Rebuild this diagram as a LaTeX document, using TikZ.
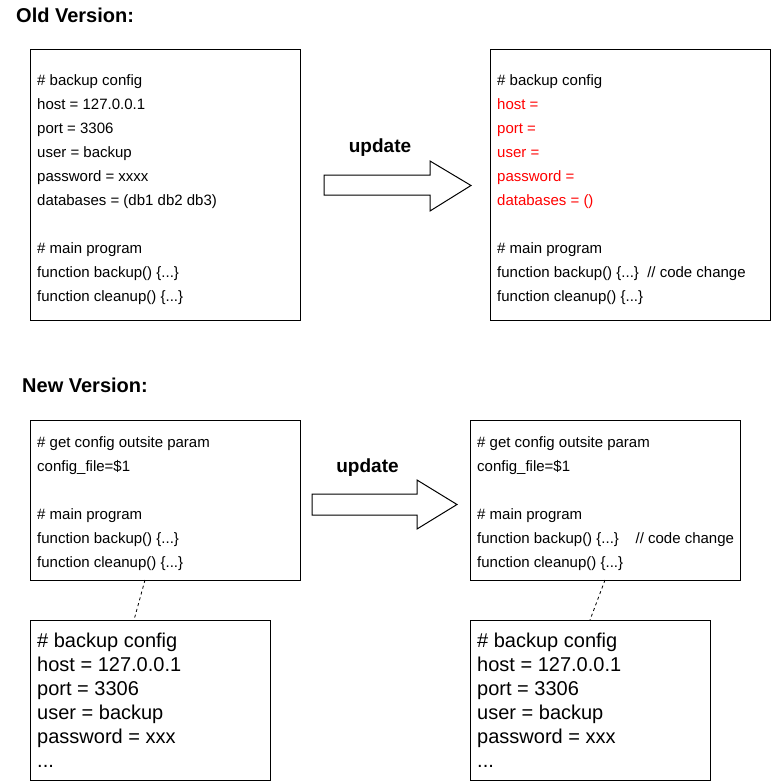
\documentclass[tikz,border=0pt]{standalone}
\usepackage{fontspec}
\setmainfont{Liberation Sans}
\usetikzlibrary{calc}
\begin{document}
\begin{tikzpicture}[x=1pt,y=-1pt,
  codebox/.style={draw=black, line width=1pt, anchor=north west, inner sep=0pt, outer sep=0pt},
  codetext/.style={anchor=base west, align=left, inner sep=0pt, font=\fontsize{15}{24}\selectfont},
  bigtext/.style={anchor=base west, align=left, inner sep=0pt, font=\fontsize{20}{24}\selectfont},
  titletext/.style={anchor=base west, inner sep=0pt, font=\bfseries\fontsize{20}{24}\selectfont},
  updtext/.style={anchor=base, inner sep=0pt, font=\bfseries\fontsize{19}{24}\selectfont},
  bigarrow/.style={draw=black, line width=1pt, fill=white, line join=miter},
  link/.style={draw=black, line width=0.8pt, dash pattern=on 3pt off 3pt}]
\useasboundingbox (0,0) rectangle (771,781);

% titles
\node[titletext] (oldtitle) at (16,23) {Old Version:};
\node[titletext] (newtitle) at (22,392) {New Version:};

% old version boxes (text nodes anchored at the baseline of their last line)
\node[codebox, minimum width=270pt, minimum height=270pt] (old1) at (30,50) {};
\node[codetext] (old1txt) at (37,301.5) {\# backup config\\
host = 127.0.0.1\\
port = 3306\\
user = backup\\
password = xxxx\\
databases = (db1 db2 db3)\\[24pt]
\# main program\\
function backup() \{...\}\\
function cleanup() \{...\}};

\node[codebox, minimum width=280pt, minimum height=270pt] (old2) at (490,50) {};
\node[codetext] (old2txt) at (497,301.5) {\# backup config\\
{\color{red}host =}\\
{\color{red}port =}\\
{\color{red}user =}\\
{\color{red}password =}\\
{\color{red}databases = ()}\\[24pt]
\# main program\\
function backup() \{...\}\ \ // code change\\
function cleanup() \{...\}};

% old update arrow
\node[updtext] (upd1) at (380,152) {update};
\draw[bigarrow] (324,175) -- (430,175) -- (430,161) -- (471,185.5) -- (430,211) -- (430,195) -- (324,195) -- cycle;

% new version boxes
\node[codebox, minimum width=270pt, minimum height=160pt] (new1) at (30,420) {};
\node[codetext] (new1txt) at (37,567.5) {\# get config outsite param\\
config\_file=\$1\\[24pt]
\# main program\\
function backup() \{...\}\\
function cleanup() \{...\}};

\node[codebox, minimum width=270pt, minimum height=160pt] (new2) at (470,420) {};
\node[codetext] (new2txt) at (477,567.5) {\# get config outsite param\\
config\_file=\$1\\[24pt]
\# main program\\
function backup() \{...\}\ \ \ \ // code change\\
function cleanup() \{...\}};

% new update arrow
\node[updtext] (upd2) at (367.5,472) {update};
\draw[bigarrow] (312,494) -- (417,494) -- (417,480) -- (457,504.5) -- (417,529) -- (417,515) -- (312,515) -- cycle;

% config files
\node[codebox, minimum width=240pt, minimum height=160pt] (cfg1) at (30,620) {};
\node[bigtext] (cfg1txt) at (37,767) {\# backup config\\
host = 127.0.0.1\\
port = 3306\\
user = backup\\
password = xxx\\
...};

\node[codebox, minimum width=240pt, minimum height=160pt] (cfg2) at (470,620) {};
\node[bigtext] (cfg2txt) at (477,767) {\# backup config\\
host = 127.0.0.1\\
port = 3306\\
user = backup\\
password = xxx\\
...};

% dashed links
\draw[link] ($(new1.south west)+(115,0)$) -- ($(cfg1.north west)+(104,0)$);
\draw[link] ($(new2.south west)+(135,0)$) -- ($(cfg2.north west)+(120,0)$);
\end{tikzpicture}
\end{document}
